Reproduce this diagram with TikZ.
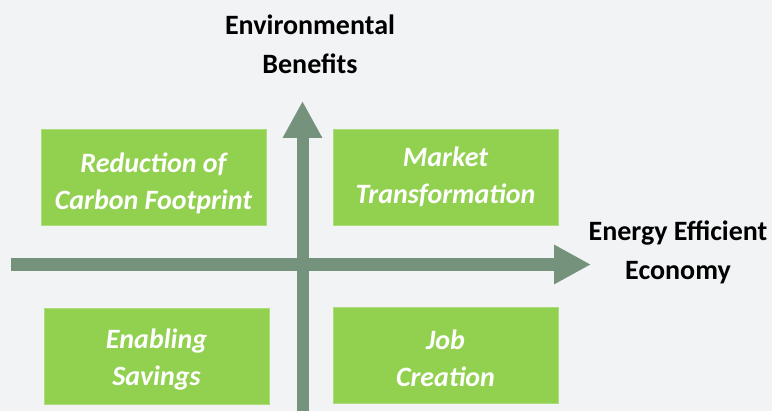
\documentclass[tikz,border=0pt]{standalone}
\usepackage{fontspec}
\setmainfont{Carlito}
\usepackage{tikz}
\usetikzlibrary{arrows.meta}
\definecolor{bggray}{HTML}{F2F3F5}
\definecolor{boxgreen}{HTML}{92D050}
\definecolor{axisgreen}{HTML}{74927C}
\newcommand{\quadrant}[5][0] % [shift]{name}{x}{y}{text} avec shift optionel
{
	\node [quadbox] (#2) at (#3,#4) {};
	\node [quadtext, yshift=-#1pt] (#2text) at (#2) {#5};
}

\begin{document}
\begin{tikzpicture}[x=1pt, y=-1pt,
	quadbox/.style={rectangle, fill=boxgreen, draw=boxgreen!75!white, thin, minimum width=225pt, minimum height=96pt},
	quadtext/.style={text=white, align=center, font=\fontsize{28}{37}\selectfont\bfseries\itshape},
	axislabel/.style={align=center, font=\fontsize{28}{39}\selectfont\bfseries},
	axis/.style={axisgreen, line width=12pt, -{Triangle[length=37pt, width=37pt]}}]
		
		\fill [bggray] (0,0) rectangle (772,411);
		
		% axes
		\coordinate (xstart) at (11,264.5);
		\coordinate (xend) at (591,264.5);
		\coordinate (ystart) at (302.5,411);
		\coordinate (yend) at (302.5,101);
		\draw [axis] (xstart) -- (xend);
		\draw [axis] (ystart) -- (yend);
		
		\node [axislabel] (envlabel) at (310,44) {Environmental\\Benefits};
		\node [axislabel] (ecolabel) at (678,252) {Energy Efficient\\Economy};
		
		% quadrants
		\quadrant[6]{carbon}{153.5}{177}{Reduction of\\Carbon Footprint}
		\quadrant{market}{445.5}{177}{Market\\Transformation}
		\quadrant[4]{savings}{156.5}{356}{Enabling\\Savings}
		\quadrant[3]{jobs}{445.5}{355.5}{Job\\Creation}
		
\end{tikzpicture}
\end{document}
